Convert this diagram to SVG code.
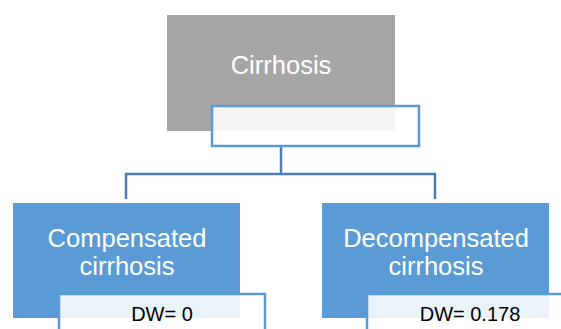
<svg xmlns="http://www.w3.org/2000/svg" width="561" height="329" viewBox="0 0 561 329">
<style>
.lbl{font-family:"Liberation Sans",Arial,sans-serif;fill:#fff;font-size:25.5px;text-anchor:middle}
.sub{font-family:"Liberation Sans",Arial,sans-serif;fill:#000;font-size:20px;text-anchor:middle}
.ov{fill:#fff;fill-opacity:0.88;stroke:#5b9bd5;stroke-width:2.5}
.conn{fill:none;stroke:#4a7ebb;stroke-width:2.5}
</style>
<rect width="561" height="329" fill="#fff"/>
<g id="connectors">
<path class="conn" d="M281,146 V174 M126,199 V174 H435 V199"/>
</g>
<g id="cirrhosis">
<rect x="167" y="15" width="228" height="116" fill="#a6a6a6"/>
<text class="lbl" x="281" y="74">Cirrhosis</text>
<rect class="ov" x="212" y="106" width="207" height="40"/>
</g>
<g id="compensated">
<rect x="13" y="203" width="227" height="115" fill="#5b9bd5"/>
<text class="lbl" x="127" y="246.5">Compensated</text>
<text class="lbl" x="127" y="275">cirrhosis</text>
<rect class="ov" x="59" y="294" width="206" height="50"/>
<text class="sub" x="162" y="321">DW= 0</text>
</g>
<g id="decompensated">
<rect x="322" y="203" width="227" height="115" fill="#5b9bd5"/>
<text class="lbl" x="436" y="246.5">Decompensated</text>
<text class="lbl" x="436" y="275">cirrhosis</text>
<rect class="ov" x="367" y="294" width="206" height="50"/>
<text class="sub" x="470" y="321">DW= 0.178</text>
</g>
</svg>
